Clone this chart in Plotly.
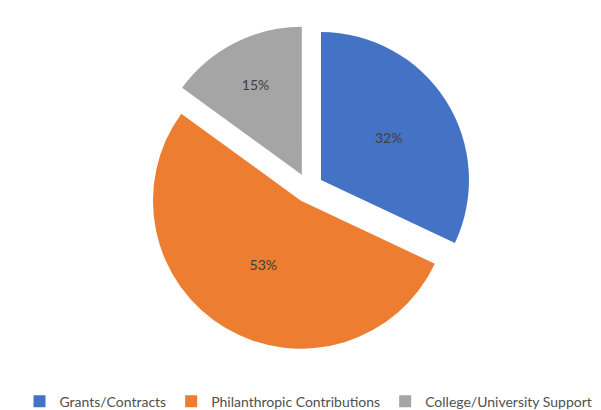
import plotly.graph_objects as go

categories = ["Grants/Contracts", "Philanthropic Contributions", "College/University Support"]
shares = [32, 53, 15]
colors = ["#4472C4", "#ED7D31", "#A5A5A5"]

fig = go.Figure()
fig.add_trace(go.Pie(
    labels=categories,
    values=shares,
    sort=False,
    direction="clockwise",
    rotation=0,
    pull=[0.1, 0.1, 0.1],
    marker=dict(colors=colors, line=dict(width=0)),
    texttemplate="%{percent:.0%}",
    textposition="inside",
    insidetextorientation="horizontal",
    textfont=dict(family="Lato, sans-serif", size=14, color="#404040"),
    domain=dict(x=[0.226, 0.774], y=[0.164, 0.958]),
))

fig.update_layout(
    width=601,
    height=410,
    margin=dict(l=0, r=0, t=0, b=0),
    paper_bgcolor="white",
    font=dict(family="Lato, sans-serif", color="#595959"),
    showlegend=True,
    legend=dict(
        orientation="h",
        x=0.5, xanchor="center",
        y=0.04, yanchor="middle",
        font=dict(family="Lato, sans-serif", size=14, color="#505050"),
        itemwidth=30,
    ),
)

fig.write_html("out.html")
